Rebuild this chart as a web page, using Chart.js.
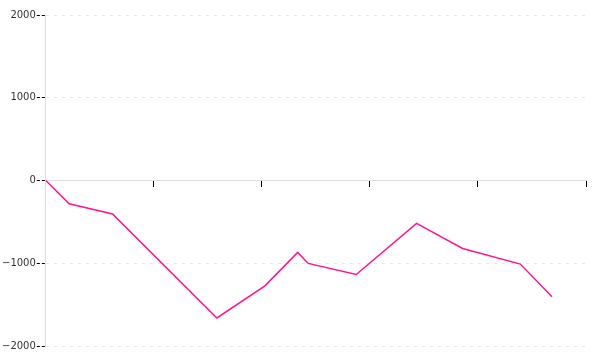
<!DOCTYPE html>
<html>
<head>
<meta charset="utf-8">
<script src="https://cdn.jsdelivr.net/npm/chart.js@4"></script>
<style>
  html, body { margin: 0; padding: 0; background: #fff; }
  #wrap { width: 600px; height: 360px; }
</style>
</head>
<body>
<div id="wrap"><canvas id="linegraph"></canvas></div>
<script>
// values
var xValues = [0, 0.216, 0.618, 1.583, 2.028, 2.331, 2.429, 2.873, 3.432, 3.858, 4.392, 4.685];
var yValues = [0, -282, -404, -1661, -1273, -869, -1002, -1136, -518, -821, -1010, -1406];
var yTicks = [-2000, -1000, 0, 1000, 2000];

var points = xValues.map(function (x, i) { return { x: x, y: yValues[i] }; });

var ctx = document.getElementById('linegraph').getContext('2d');
window.myLine = new Chart(ctx, {
   type: 'line',
   data: {
      datasets: [{
         data: points,
         borderColor: '#ff1493',
         borderWidth: 1.5,
         pointRadius: 0,
         tension: 0,
         fill: false
      }]
   },
   options: {
      responsive: true,
      maintainAspectRatio: false,
      animation: false,
      layout: { padding: { top: 15, right: 14, bottom: 14, left: 1 } },
      plugins: { legend: { display: false }, tooltip: { enabled: false } },
      scales: {
         x: {
            type: 'linear',
            min: 0,
            max: 5,
            position: { y: 0 },
            ticks: { display: false, stepSize: 1 },
            grid: { drawOnChartArea: false, drawTicks: true, tickLength: 6, tickColor: '#000' },
            border: { color: '#ddd' }
         },
         y: {
            min: -2000,
            max: 2000,
            afterBuildTicks: function (axis) { axis.ticks = yTicks.map(function (v) { return { value: v }; }); },
            ticks: {
               color: '#333',
               font: { family: 'DejaVu Sans', size: 10 },
               padding: 1,
               callback: function (v) { return v < 0 ? '\u2212' + Math.abs(v) : String(v); }
            },
            grid: { color: '#e6e6e6', tickColor: '#000', tickLength: 9, tickBorderDash: [3, 2] },
            border: { color: '#ddd', dash: [3, 5] }
         }
      }
   }
});
</script>
</body>
</html>
